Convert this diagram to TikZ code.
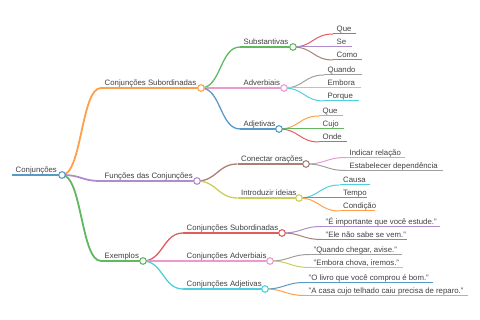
\documentclass[tikz,border=0pt]{standalone}
\usepackage{fontspec}
\setmainfont{Liberation Sans}
\definecolor{k0}{HTML}{1F77B4}
\definecolor{k1}{HTML}{FF7F0E}
\definecolor{k2}{HTML}{2CA02C}
\definecolor{k3}{HTML}{D62728}
\definecolor{k4}{HTML}{9467BD}
\definecolor{k5}{HTML}{8C564B}
\definecolor{k6}{HTML}{E377C2}
\definecolor{k7}{HTML}{7F7F7F}
\definecolor{k8}{HTML}{BCBD22}
\definecolor{k9}{HTML}{17BECF}
\newcommand{\MMnode}[7]{%
  \coordinate (#1-s) at (#2,#4);
  \coordinate (#1-e) at (#3,#4);
  \node[lbl] (#1) at (#2+3.5,#4-2.2) {#7};
  \draw[#6, draw=#5!75] (#1-s) -- (#1-e);
}
\newcommand{\MMlink}[4]{\draw[link, #4, draw=#3!75] (#1-e) to (#2-s);}
\newcommand{\MMdot}[2]{\node[dot, draw=#2!75] (#1-c) at (#1-e) {};}
\begin{document}
\begin{tikzpicture}[x=1pt,y=-1pt,
  lbl/.style={anchor=base west, inner sep=0pt, text=black!75, font=\fontsize{7.8}{9}\selectfont},
  w0/.style={line width=2.4pt},
  w1/.style={line width=1.8pt},
  w2/.style={line width=1.3pt},
  w3/.style={line width=1pt},
  link/.style={to path={.. controls +(20,0) and +(-20,0) .. (\tikztotarget)}},
  dot/.style={circle, fill=white, minimum size=6.6pt, inner sep=0pt, line width=1.1pt}]
\useasboundingbox (0,0) rectangle (480,320);
% nodes
\MMnode{root}{12}{62}{175}{k0}{w0}{Conjunções}
\MMnode{sub}{101}{201}{88}{k1}{w1}{Conjunções Subordinadas}
\MMnode{subst}{240}{293}{47}{k2}{w2}{Substantivas}
\MMnode{queA}{333}{356}{34}{k3}{w3}{Que}
\MMnode{se}{333}{352}{47}{k4}{w3}{Se}
\MMnode{como}{333}{362}{60}{k5}{w3}{Como}
\MMnode{adv}{240}{284}{88}{k6}{w2}{Adverbiais}
\MMnode{quando}{324}{362}{75}{k7}{w3}{Quando}
\MMnode{embora}{324}{361}{88}{k8}{w3}{Embora}
\MMnode{porque}{324}{359}{101}{k9}{w3}{Porque}
\MMnode{adj}{240}{279}{129}{k0}{w2}{Adjetivas}
\MMnode{queB}{319}{343}{116}{k1}{w3}{Que}
\MMnode{cujo}{319}{344}{129}{k2}{w3}{Cujo}
\MMnode{onde}{319}{347}{142}{k3}{w3}{Onde}
\MMnode{func}{101}{197}{181}{k4}{w1}{Funções das Conjunções}
\MMnode{con}{237.5}{306}{164}{k5}{w2}{Conectar orações}
\MMnode{ind}{346}{405}{157.5}{k6}{w3}{Indicar relação}
\MMnode{est}{346}{443}{170.5}{k7}{w3}{Estabelecer dependência}
\MMnode{intro}{237.5}{299}{198}{k8}{w2}{Introduzir ideias}
\MMnode{causa}{339.5}{370}{185}{k9}{w3}{Causa}
\MMnode{tempo}{339.5}{367}{198}{k0}{w3}{Tempo}
\MMnode{cond}{339.5}{375}{211}{k1}{w3}{Condição}
\MMnode{ex}{101}{143}{261}{k2}{w1}{Exemplos}
\MMnode{cs}{183}{282}{233}{k3}{w2}{Conjunções Subordinadas}
\MMnode{ea}{322}{440}{226.5}{k4}{w3}{"É importante que você estude."}
\MMnode{eb}{322}{407}{239.5}{k5}{w3}{"Ele não sabe se vem."}
\MMnode{ca}{183}{270}{261}{k6}{w2}{Conjunções Adverbiais}
\MMnode{qa}{310}{402}{254.5}{k7}{w3}{"Quando chegar, avise."}
\MMnode{qb}{310}{403}{267.5}{k8}{w3}{"Embora chova, iremos."}
\MMnode{cadj}{183}{265}{289}{k9}{w2}{Conjunções Adjetivas}
\MMnode{oa}{305}{433}{282.5}{k0}{w3}{"O livro que você comprou é bom."}
\MMnode{ob}{305}{468}{295.5}{k1}{w3}{"A casa cujo telhado caiu precisa de reparo."}
% links
\MMlink{root}{sub}{k1}{w1}
\MMlink{root}{func}{k4}{w1}
\MMlink{root}{ex}{k2}{w1}
\MMlink{sub}{subst}{k2}{w2}
\MMlink{sub}{adv}{k6}{w2}
\MMlink{sub}{adj}{k0}{w2}
\MMlink{subst}{queA}{k3}{w3}
\MMlink{subst}{se}{k4}{w3}
\MMlink{subst}{como}{k5}{w3}
\MMlink{adv}{quando}{k7}{w3}
\MMlink{adv}{embora}{k8}{w3}
\MMlink{adv}{porque}{k9}{w3}
\MMlink{adj}{queB}{k1}{w3}
\MMlink{adj}{cujo}{k2}{w3}
\MMlink{adj}{onde}{k3}{w3}
\MMlink{func}{con}{k5}{w2}
\MMlink{func}{intro}{k8}{w2}
\MMlink{con}{ind}{k6}{w3}
\MMlink{con}{est}{k7}{w3}
\MMlink{intro}{causa}{k9}{w3}
\MMlink{intro}{tempo}{k0}{w3}
\MMlink{intro}{cond}{k1}{w3}
\MMlink{ex}{cs}{k3}{w2}
\MMlink{ex}{ca}{k6}{w2}
\MMlink{ex}{cadj}{k9}{w2}
\MMlink{cs}{ea}{k4}{w3}
\MMlink{cs}{eb}{k5}{w3}
\MMlink{ca}{qa}{k7}{w3}
\MMlink{ca}{qb}{k8}{w3}
\MMlink{cadj}{oa}{k0}{w3}
\MMlink{cadj}{ob}{k1}{w3}
% circles
\MMdot{root}{k0}
\MMdot{sub}{k1}
\MMdot{subst}{k2}
\MMdot{adv}{k6}
\MMdot{adj}{k0}
\MMdot{func}{k4}
\MMdot{con}{k5}
\MMdot{intro}{k8}
\MMdot{ex}{k2}
\MMdot{cs}{k3}
\MMdot{ca}{k6}
\MMdot{cadj}{k9}
\end{tikzpicture}
\end{document}
